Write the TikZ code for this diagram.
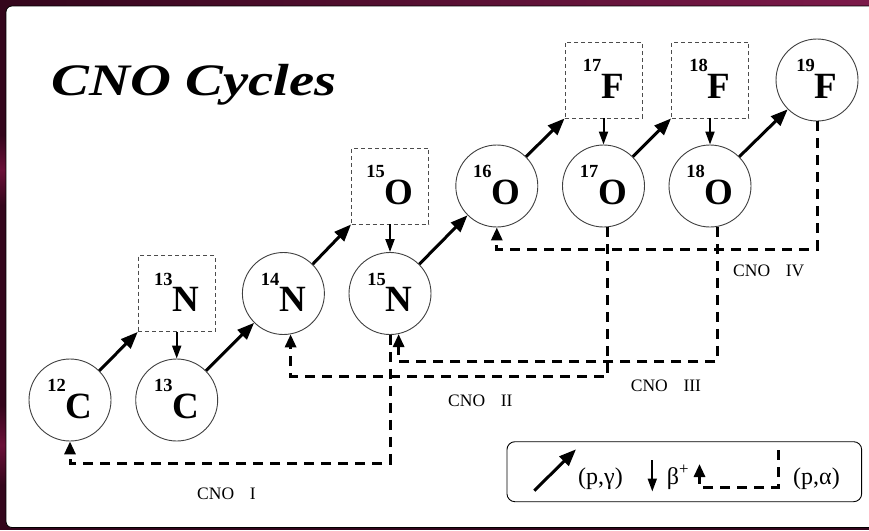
\documentclass[tikz,border=0pt]{standalone}
\usepackage{fontspec}
\setmainfont{Liberation Serif}
\usetikzlibrary{arrows.meta,calc}
\definecolor{bgdark}{HTML}{34061C}
\definecolor{bgmag}{HTML}{7C1A4A}
\definecolor{bgpatch}{HTML}{6A1038}
\newcommand{\isolabel}[2]{\rule[-2pt]{0pt}{0pt}\raisebox{26.5pt}{\fontsize{18.5}{18.5}\selectfont\bfseries #1}{\fontsize{37}{37}\selectfont\bfseries #2}\hspace{13pt}}
\begin{document}
\begin{tikzpicture}[x=1pt,y=-1pt,
  nuc/.style={circle, draw=black!75, line width=0.9pt, minimum size=82pt, inner sep=0pt},
  unst/.style={rectangle, draw=black!70, dash pattern=on 4pt off 3pt, line width=0.9pt, minimum width=77pt, minimum height=76pt, inner sep=0pt},
  pg/.style={line width=3pt, -{Triangle[length=17pt,width=13pt]}},
  betaarr/.style={line width=2pt, -{Triangle[length=13pt,width=9pt]}},
  ret/.style={line width=3pt, dash pattern=on 10pt off 7pt, -{Triangle[length=13pt,width=11pt]}},
  lab/.style={anchor=base west, inner sep=0pt, font=\fontsize{17.5}{17.5}\selectfont},
  leglab/.style={anchor=base west, inner sep=0pt, font=\fontsize{24}{24}\selectfont}
]
\useasboundingbox (0,0) rectangle (869,530);
% background frame
\fill[bgdark] (0,0) rectangle (869,530);
\shade[left color=bgdark, right color=bgmag] (0,0) rectangle (869,6);
\shade[top color=bgdark, bottom color=bgdark, middle color=bgpatch] (0,135) rectangle (6,205);
\shade[top color=bgdark, bottom color=bgdark, middle color=bgpatch] (0,405) rectangle (6,485);
\draw[fill=white, rounded corners=6pt, line width=0.8pt] (6,6) rectangle (885,527.5);

% title
\node[anchor=base west, inner sep=0pt, font=\fontsize{45}{45}\selectfont\bfseries\itshape] (title) at (51.7,95.3) {\scalebox{1.26}[1]{CNO Cycles}};

% nuclei
\node[nuc]  (c12) at (70,400)    {\isolabel{12}{C}};
\node[nuc]  (c13) at (176.7,400) {\isolabel{13}{C}};
\node[unst] (n13) at (176.7,293.5) {\isolabel{13}{N}};
\node[nuc]  (n14) at (283.4,293.5) {\isolabel{14}{N}};
\node[nuc]  (n15) at (390,293.5) {\isolabel{15}{N}};
\node[unst] (o15) at (390,186)   {\isolabel{15}{O}};
\node[nuc]  (o16) at (496.8,186) {\isolabel{16}{O}};
\node[nuc]  (o17) at (603.5,186) {\isolabel{17}{O}};
\node[nuc]  (o18) at (710,186)   {\isolabel{18}{O}};
\node[unst] (f17) at (603.5,80)  {\isolabel{17}{F}};
\node[unst] (f18) at (710,80)    {\isolabel{18}{F}};
\node[nuc]  (f19) at (817,80)    {\isolabel{19}{F}};

% (p,gamma) arrows
\draw[pg] (c12.45) -- (n13.south west);
\draw[pg] (c13.45) -- (n14.225);
\draw[pg] (n14.45) -- (o15.south west);
\draw[pg] (n15.45) -- (o16.225);
\draw[pg] (o16.45) -- (f17.south west);
\draw[pg] (o17.45) -- (f18.south west);
\draw[pg] (o18.45) -- (f19.225);
% beta decays
\draw[betaarr] (n13.south) -- (c13.north);
\draw[betaarr] (o15.south) -- (n15.north);
\draw[betaarr] (f17.south) -- (o17.north);
\draw[betaarr] (f18.south) -- (o18.north);

% (p,alpha) return paths
\coordinate (h1) at (0,463);
\coordinate (h2) at (0,376);
\coordinate (h3) at (0,361);
\coordinate (h4) at (0,249);
\coordinate (k1) at (c12.south |- h1);
\coordinate (k2) at (n14.-80 |- h2);
\coordinate (k3) at (n15.-78 |- h3);
\coordinate (k4) at (o16.south |- h4);
\draw[ret] (n15.south) |- (k1) -- (c12.south);
\draw[ret] (o17.-84) |- (k2) -- (n14.-80);
\draw[ret] (o18.-80) |- (k3) -- (n15.-78);
\draw[ret] (f19.south) |- (k4) -- (o16.south);

% cycle labels
\node[lab] (cno1) at (197,499) {CNO\hspace{0.9em}I};
\node[lab] (cno2) at (448,406.7) {CNO\hspace{0.9em}II};
\node[lab] (cno3) at (630.7,391.7) {CNO\hspace{0.9em}III};
\node[lab] (cno4) at (733,276.7) {CNO\hspace{0.9em}IV};

% legend
\node[draw, rounded corners=8pt, line width=0.9pt, minimum width=354.7pt, minimum height=60pt, inner sep=0pt] (legend) at (684.3,471.7) {};
\coordinate (la1) at (534.3,490.7);
\coordinate (la2) at (576,449.3);
\draw[pg] (la1) -- (la2);
\node[leglab] (lpg) at (578,484) {(p,γ)};
\coordinate (lb1) at (652.3,460);
\coordinate (lb2) at (652.3,491.5);
\draw[betaarr] (lb1) -- (lb2);
\node[leglab] (lbeta) at (666.7,484) {β\textsuperscript{+}};
\coordinate (lr1) at (778,450);
\coordinate (lr2) at (699.5,487);
\coordinate (lr3) at (699.5,464);
\draw[ret] (lr1) |- (lr2) -- (lr3);
\node[leglab] (lpa) at (793,484) {(p,α)};
\end{tikzpicture}
\end{document}
